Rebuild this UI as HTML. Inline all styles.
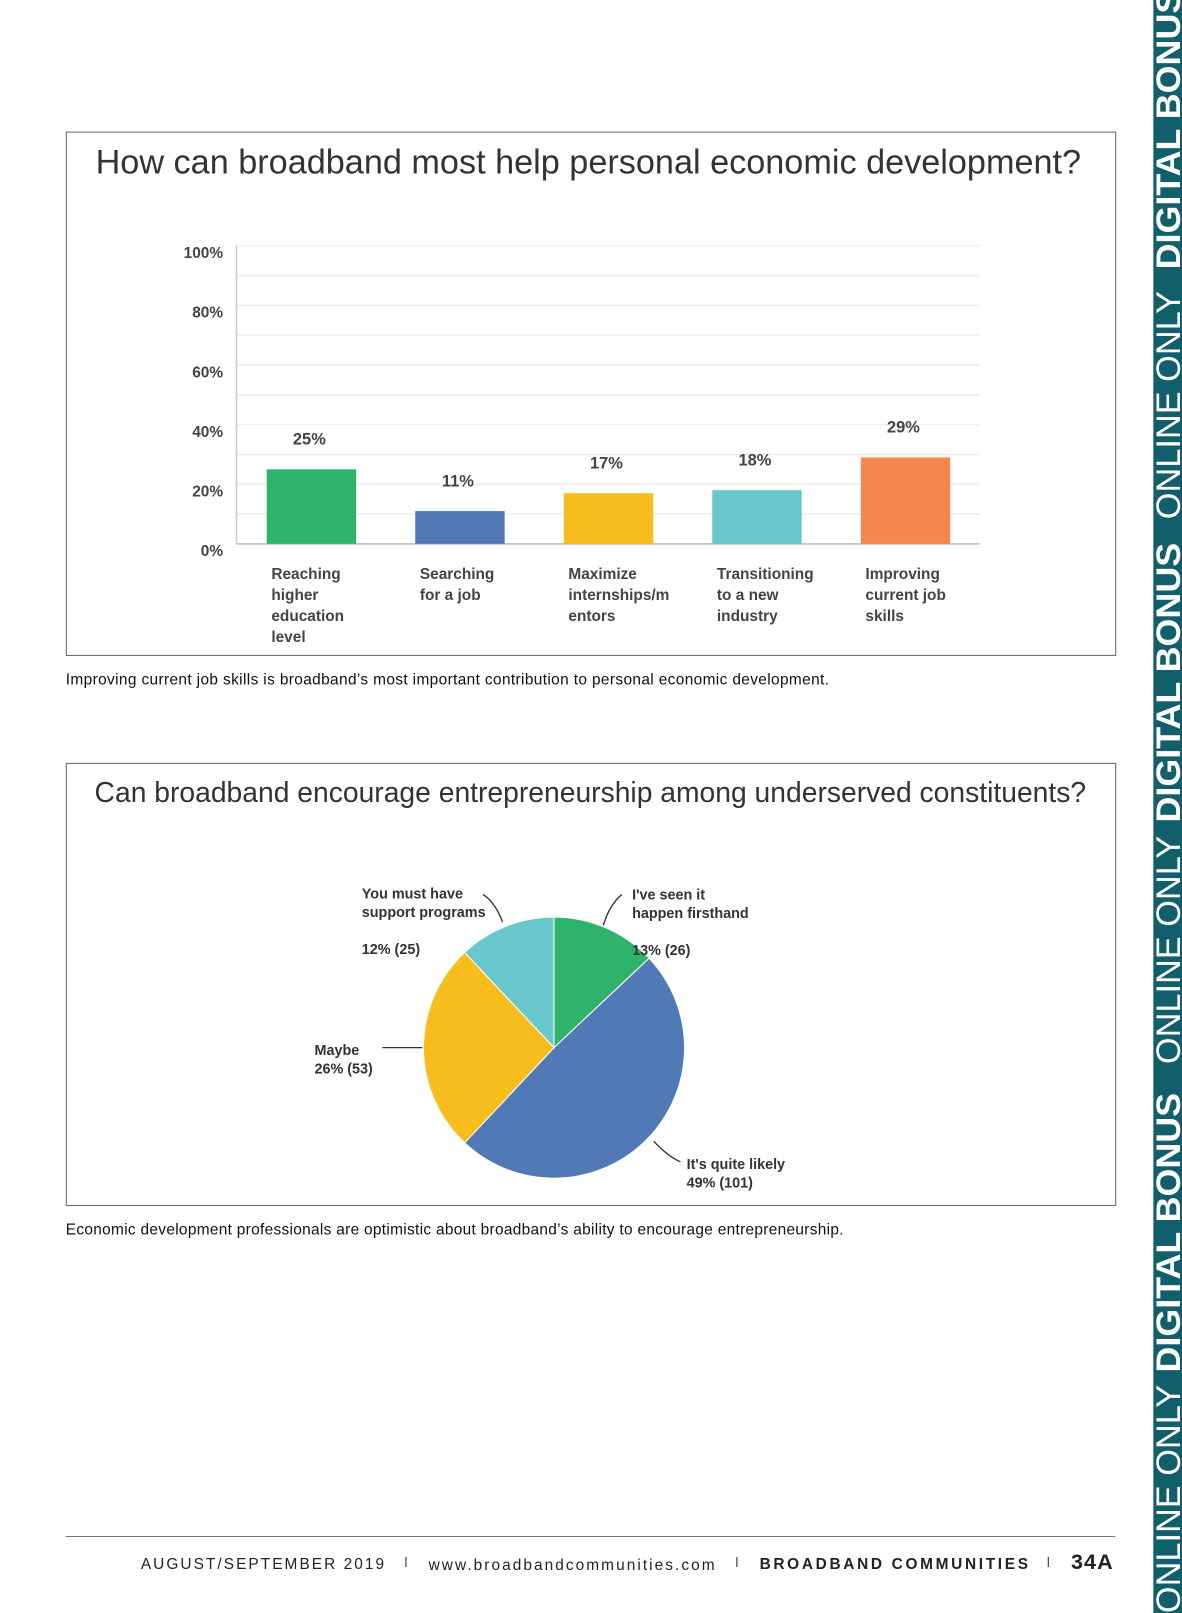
<!DOCTYPE html>
<html><head><meta charset="utf-8">
<style>
html,body{margin:0;padding:0;background:#fff;width:1182px;height:1613px;overflow:hidden;}
#stage{position:absolute;left:0;top:0;width:1150px;height:1569px;transform:scale(1.02783,1.0281);transform-origin:0 0;font-family:"Liberation Sans",sans-serif;}
.box{position:absolute;border:1px solid #666;background:#fff;}
.t{position:absolute;white-space:nowrap;}
</style></head>
<body>
<div id="stage">
  <div class="box" style="left:64px;top:128px;width:1020px;height:508px"></div>
  <div class="t" style="left:93px;top:140px;font-size:33.3px;color:#333">How can broadband most help personal economic development?</div>
  <svg id="bar" style="position:absolute;left:0;top:0" width="1150" height="640"></svg>
  <div class="t" style="left:64px;top:653px;font-size:15px;letter-spacing:0.36px;color:#111">Improving current job skills is broadband’s most important contribution to personal economic development.</div>

  <div class="box" style="left:64px;top:742px;width:1020px;height:429px"></div>
  <div class="t" style="left:92px;top:755px;font-size:27.5px;color:#333">Can broadband encourage entrepreneurship among underserved constituents?</div>
  <svg id="pie" style="position:absolute;left:0;top:0" width="1150" height="1180"></svg>
  <div class="t" style="left:64px;top:1188px;font-size:15px;letter-spacing:0.3px;color:#111">Economic development professionals are optimistic about broadband’s ability to encourage entrepreneurship.</div>

  <div style="position:absolute;left:64px;top:1494px;width:1021px;height:1px;background:#777"></div>
  <div class="t" style="left:137px;top:1513px;font-size:15px;letter-spacing:2.0px;color:#222">AUGUST/SEPTEMBER 2019</div>
  <div class="t" style="left:393px;top:1511px;font-size:14px;color:#555">I</div>
  <div class="t" style="left:417px;top:1514px;font-size:15px;letter-spacing:2.0px;color:#222">www.broadbandcommunities.com</div>
  <div class="t" style="left:715px;top:1511px;font-size:14px;color:#555">I</div>
  <div class="t" style="left:739px;top:1513px;font-size:15px;font-weight:bold;letter-spacing:2.6px;color:#222">BROADBAND COMMUNITIES</div>
  <div class="t" style="left:1018px;top:1511px;font-size:14px;color:#555">I</div>
  <div class="t" style="left:1042px;top:1508px;font-size:21px;font-weight:bold;letter-spacing:1px;color:#222">34A</div>

  <svg style="position:absolute;left:1122px;top:0" width="28" height="1569">
    <rect x="0" y="0" width="28" height="1569" fill="#125f6c"/>
    <g transform="translate(26,1569) rotate(-90)" fill="#fff" font-family="Liberation Sans, sans-serif" font-size="33">
      <text x="0" y="0" textLength="222" lengthAdjust="spacingAndGlyphs" font-weight="300">ONLINE ONLY</text>
      <text x="234" y="0" textLength="272" lengthAdjust="spacingAndGlyphs" font-weight="bold">DIGITAL BONUS</text>
      <text x="534" y="0" textLength="222" lengthAdjust="spacingAndGlyphs">ONLINE ONLY</text>
      <text x="769" y="0" textLength="272" lengthAdjust="spacingAndGlyphs" font-weight="bold">DIGITAL BONUS</text>
      <text x="1064" y="0" textLength="222" lengthAdjust="spacingAndGlyphs">ONLINE ONLY</text>
      <text x="1307" y="0" textLength="272" lengthAdjust="spacingAndGlyphs" font-weight="bold">DIGITAL BONUS</text>
    </g>
  </svg>
</div>
<script>
const categories = [["Reaching","higher","education","level"],["Searching","for a job"],["Maximize","internships/m","entors"],["Transitioning","to a new","industry"],["Improving","current job","skills"]];
const values = [25, 11, 17, 18, 29];
const barColors = ["#2db46a","#5178b4","#f6bd1c","#67c7cb","#f5874e"];
const tickLabels = ["0%","20%","40%","60%","80%","100%"];
const tickValues = [0,20,40,60,80,100];

const pieLabels = ["I've seen it happen firsthand","It's quite likely","Maybe","You must have support programs"];
const pieValues = [13, 49, 26, 12];
const pieCounts = [26, 101, 53, 25];
const pieColors = ["#2db46a","#5179b5","#f6bd1c","#67c7cb"];

const NS="http://www.w3.org/2000/svg";
function mk(svg,tag,attrs,txt){const e=document.createElementNS(NS,tag);for(const k in attrs)e.setAttribute(k,attrs[k]);if(txt!==undefined)e.textContent=txt;svg.appendChild(e);return e;}

// bar chart
const bar=document.getElementById('bar');
const y=v=>529-2.9*v;
const x=i=>303+i*144.5;
for(let g=10;g<=100;g+=10){
  const l=mk(bar,'line',{x1:230,x2:953,y1:y(g),y2:y(g),stroke:'#eeeeee','stroke-width':1.5});
  
  
}
const ax=mk(bar,'line',{x1:230,x2:230,y1:y(100),y2:y(0),stroke:'#cccccc','stroke-width':1.5});


const bx=mk(bar,'line',{x1:230,x2:953,y1:y(0),y2:y(0),stroke:'#bbbbbb','stroke-width':1.5});


tickLabels.forEach((t,i)=>{
  const e=mk(bar,'text',{x:217,y:y(tickValues[i])+12,'text-anchor':'end','font-size':15,'font-weight':'bold',fill:'#444'},t);
  
  
});
values.forEach((v,i)=>{
  const r=mk(bar,'rect',{x:x(i)-43.5,y:y(v),width:87,height:y(0)-y(v),fill:barColors[i]});
  
  
  const t=mk(bar,'text',{x:x(i)-2,y:y(v)-24,'text-anchor':'middle','font-size':16,'font-weight':'bold',fill:'#444'},v+'%');
  
  
  categories[i].forEach((ln,j)=>{
    const c=mk(bar,'text',{x:x(i)-39,y:563+j*20.5,'font-size':15,'font-weight':'bold',fill:'#444'},ln);
    
    
  });
});

// pie chart
const pie=document.getElementById('pie');
const cx=539,cy=1019,R=127;
const total=pieValues.reduce((a,b)=>a+b,0);
let acc=0;
pieValues.forEach((v,i)=>{
  const a0=acc/total*2*Math.PI; acc+=v; const a1=acc/total*2*Math.PI;
  const p0=[cx+R*Math.sin(a0),cy-R*Math.cos(a0)],p1=[cx+R*Math.sin(a1),cy-R*Math.cos(a1)];
  const large=(a1-a0)>Math.PI?1:0;
  const p=mk(pie,'path',{d:`M${cx},${cy} L${p0[0]},${p0[1]} A${R},${R} 0 ${large} 1 ${p1[0]},${p1[1]} Z`,fill:pieColors[i],stroke:'#fff','stroke-width':1});
  
  
});
function lbl(lines,px,py){lines.forEach((ln,j)=>{const t=mk(pie,'text',{x:px,y:py+j*18,'font-size':14,'font-weight':'bold',fill:'#333'},ln);});}
lbl(["I've seen it","happen firsthand"],615,875);
lbl([pieValues[0]+"% ("+pieCounts[0]+")"],615,929);
lbl(["It's quite likely",pieValues[1]+"% ("+pieCounts[1]+")"],668,1137);
lbl(["Maybe",pieValues[2]+"% ("+pieCounts[2]+")"],306,1026);
lbl(["You must have","support programs"],352,874);
lbl([pieValues[3]+"% ("+pieCounts[3]+")"],352,928);
[["M605,870 Q593,880 587,900"],["M470,870 Q482,878 489,897"],["M372,1019 L411,1019"],["M636,1110 Q650,1125 662,1130"]].forEach(d=>{
  const l=mk(pie,'path',{d:d[0],fill:'none',stroke:'#333','stroke-width':1.3});
  
  
});
</script>
</body></html>
